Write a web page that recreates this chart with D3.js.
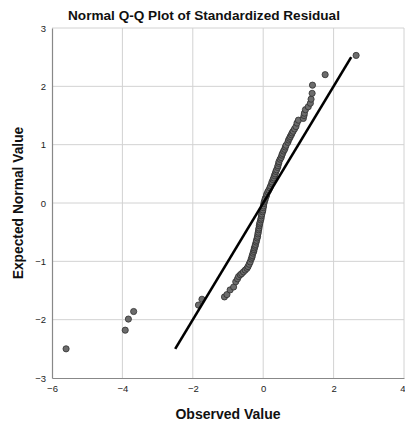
<!DOCTYPE html>
<html>
<head>
<meta charset="utf-8">
<script src="https://cdn.jsdelivr.net/npm/d3@7"></script>
<style>
  html, body { margin: 0; padding: 0; background: #fff; }
  svg { display: block; font-family: "Liberation Sans", Arial, sans-serif; }
</style>
</head>
<body>
<svg id="chart" width="405" height="429"></svg>
<script>
// Observed standardized residuals (x), sorted, and their expected normal quantiles (y)
const observed = [
  -5.60, -3.92, -3.83, -3.68, -1.84, -1.74, -1.10, -1.03, -0.94, -0.84,
  -0.78, -0.73, -0.70, -0.65, -0.61, -0.56, -0.51, -0.46, -0.43, -0.40,
  -0.37, -0.34, -0.32, -0.31, -0.29, -0.27, -0.26, -0.25, -0.23, -0.22,
  -0.20, -0.19, -0.17, -0.16, -0.15, -0.14, -0.13, -0.12, -0.11, -0.10,
  -0.09, -0.07, -0.06, -0.05, -0.04, -0.02, -0.01, 0.00, 0.01, 0.02,
  0.03, 0.05, 0.06, 0.09, 0.10, 0.13, 0.16, 0.19, 0.21, 0.24,
  0.25, 0.28, 0.30, 0.32, 0.34, 0.36, 0.38, 0.41, 0.42, 0.44,
  0.45, 0.48, 0.51, 0.53, 0.55, 0.58, 0.61, 0.63, 0.65, 0.70,
  0.72, 0.75, 0.77, 0.80, 0.82, 0.85, 0.89, 0.93, 0.96, 1.00,
  1.14, 1.16, 1.17, 1.20, 1.28, 1.34, 1.36, 1.39, 1.40, 1.76,
  2.64
];
const expected = [
  -2.50, -2.18, -1.99, -1.86, -1.75, -1.65, -1.61, -1.57, -1.49, -1.44,
  -1.35, -1.30, -1.26, -1.23, -1.21, -1.18, -1.15, -1.12, -1.09, -1.05,
  -1.01, -0.96, -0.93, -0.90, -0.86, -0.83, -0.80, -0.77, -0.74, -0.71,
  -0.67, -0.64, -0.60, -0.57, -0.53, -0.50, -0.46, -0.43, -0.39, -0.36,
  -0.33, -0.29, -0.26, -0.22, -0.19, -0.15, -0.12, -0.08, -0.05, -0.01,
  0.02, 0.05, 0.08, 0.12, 0.15, 0.19, 0.22, 0.26, 0.29, 0.33,
  0.36, 0.40, 0.43, 0.47, 0.50, 0.54, 0.57, 0.61, 0.64, 0.68,
  0.71, 0.75, 0.78, 0.82, 0.85, 0.89, 0.92, 0.96, 0.99, 1.04,
  1.08, 1.11, 1.14, 1.17, 1.20, 1.23, 1.27, 1.31, 1.37, 1.42,
  1.45, 1.50, 1.54, 1.60, 1.65, 1.71, 1.78, 1.88, 2.02, 2.20,
  2.53
];
const xTicks = [-6, -4, -2, 0, 2, 4];
const yTicks = [-3, -2, -1, 0, 1, 2, 3];
// Reference line endpoints (y = x)
const refLine = [-2.5, 2.5];

const svg = d3.select("#chart");
const plotLeft = 52, plotRight = 404, plotTop = 28, plotBottom = 378;

const x = d3.scaleLinear().domain([-6, 4]).range([plotLeft, plotRight]);
const y = d3.scaleLinear().domain([-3, 3]).range([plotBottom, plotTop]);

// Gridlines
svg.append("g").selectAll("line").data(xTicks.filter(d => d !== -6)).join("line")
  .attr("x1", d => x(d)).attr("x2", d => x(d))
  .attr("y1", plotTop).attr("y2", plotBottom)
  .attr("stroke", "#d2d2d2").attr("stroke-width", 1);
svg.append("g").selectAll("line").data(yTicks.filter(d => d !== -3)).join("line")
  .attr("x1", plotLeft).attr("x2", plotRight)
  .attr("y1", d => y(d)).attr("y2", d => y(d))
  .attr("stroke", "#d2d2d2").attr("stroke-width", 1);

// Axes
const xAxis = d3.axisBottom(x).tickValues(xTicks).tickSize(0).tickPadding(6).tickFormat(d3.format("d"));
const yAxis = d3.axisLeft(y).tickValues(yTicks).tickSize(0).tickPadding(6).tickFormat(d3.format("d"));

const gx = svg.append("g").attr("transform", `translate(0,${plotBottom})`).call(xAxis);
const gy = svg.append("g").attr("transform", `translate(${plotLeft},0)`).call(yAxis);
[gx, gy].forEach(g => {
  g.select(".domain").attr("stroke", "#888").attr("stroke-width", 1.2);
  g.selectAll("text").attr("font-size", 9.5).attr("fill", "#222")
    .attr("font-family", "'Liberation Sans', Arial, sans-serif");
});
gx.selectAll("text").attr("dy", "0.85em");
// Keep the last x label inside the right edge
gx.selectAll(".tick").filter(d => d === xTicks[xTicks.length - 1])
  .select("text").attr("text-anchor", "end").attr("x", 1);

// Points
svg.append("g").selectAll("circle").data(observed.map((v, i) => [v, expected[i]])).join("circle")
  .attr("cx", d => x(d[0])).attr("cy", d => y(d[1])).attr("r", 3.1)
  .attr("fill", "#6c6c6c").attr("stroke", "#2e2e2e").attr("stroke-width", 0.8);

// Reference line
svg.append("line")
  .attr("x1", x(refLine[0])).attr("y1", y(refLine[0]))
  .attr("x2", x(refLine[1])).attr("y2", y(refLine[1]))
  .attr("stroke", "#000").attr("stroke-width", 2.6);

// Titles
svg.append("text").attr("x", 204).attr("y", 20).attr("text-anchor", "middle")
  .attr("font-size", 13.6).attr("font-weight", "bold").attr("fill", "#111")
  .text("Normal Q-Q Plot of Standardized Residual");
svg.append("text").attr("x", 228).attr("y", 419).attr("text-anchor", "middle")
  .attr("font-size", 14).attr("font-weight", "bold").attr("fill", "#111")
  .text("Observed Value");
svg.append("text").attr("transform", "translate(23,203) rotate(-90)").attr("text-anchor", "middle")
  .attr("font-size", 13.8).attr("font-weight", "bold").attr("fill", "#111")
  .text("Expected Normal Value");
</script>
</body>
</html>
